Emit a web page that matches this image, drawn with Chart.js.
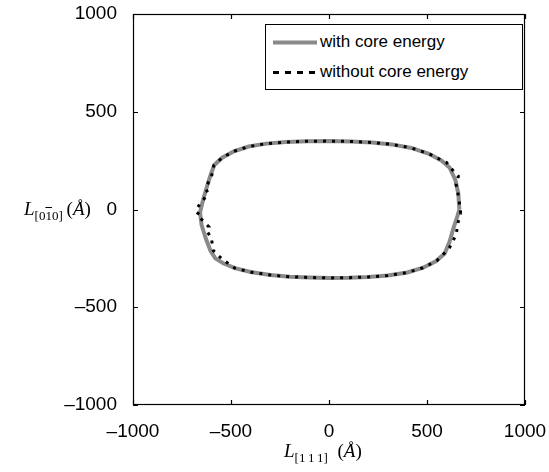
<!DOCTYPE html>
<html>
<head>
<meta charset="utf8">
<script src="https://cdn.jsdelivr.net/npm/chart.js@4.4.0/dist/chart.umd.min.js"></script>
<style>
  body { margin: 0; background: #fff; }
  .wrap { position: relative; width: 549px; height: 472px; }
  .ttl { position: absolute; font-family: "Liberation Serif", "DejaVu Serif", serif; font-size: 19px; color: #000; white-space: nowrap; }
  .ttl i { font-style: italic; }
  .ttl sub { font-size: 13px; vertical-align: -5px; }
  .ob { text-decoration: overline; }
  .legend { position: absolute; left: 265px; top: 24px; width: 256px; height: 64px; border: 1px solid #000; background: #fff;
            font-family: "Liberation Sans", Arial, sans-serif; font-size: 17px; }
  .row { position: absolute; left: 0; height: 20px; line-height: 20px; }
  .row span { position: absolute; left: 54px; top: 0; white-space: nowrap; }
  .row canvas { position: absolute; left: 7px; top: 0; }
</style>
</head>
<body>
<div class="wrap">
  <canvas id="myChart" width="549" height="472"></canvas>
  <div class="ttl" style="left:24px; top:198px;"><i>L</i><sub>[0<span class="ob">1</span>0]</sub>&thinsp;(<i>Å</i>)</div>
  <div class="ttl" style="left:284px; top:440px;"><i>L</i><sub>[1&thinsp;1&thinsp;1]</sub>&nbsp;&nbsp;(<i>Å</i>)</div>
  <div class="legend">
    <div class="row" style="top:7px;"><canvas id="lg1" width="46" height="20"></canvas><span>with core energy</span></div>
    <div class="row" style="top:37px;"><canvas id="lg2" width="46" height="20"></canvas><span>without core energy</span></div>
  </div>
</div>
<script>
// loop shapes (Angstrom)
var withX = [665, 660, 645, 615, 575, 510, 420, 320, 220, 110, 0, -110, -220, -320, -410, -485, -545, -585, -605, -625, -645, -658, -650, -628, -605, -580, -540, -480, -400, -300, -200, -100, 0, 100, 200, 300, 400, 480, 545, 590, 615, 635, 655, 665];
var withY = [0, 80, 150, 215, 250, 285, 315, 333, 343, 348, 350, 349, 345, 337, 322, 298, 265, 228, 175, 110, 40, -15, -80, -150, -210, -250, -275, -300, -320, -335, -344, -348, -350, -349, -345, -338, -322, -298, -265, -225, -165, -95, -35, 0];

var woX = [672, 662, 648, 660, 640, 612, 600, 575, 510, 420, 320, 220, 110, 0, -110, -220, -320, -410, -485, -545, -588, -600, -612, -630, -618, -640, -672, -662, -675, -640, -612, -622, -600, -590, -560, -540, -480, -400, -300, -200, -100, 0, 100, 200, 300, 400, 480, 550, 592, 615, 648, 660, 672];
var woY = [-20, 60, 130, 170, 190, 225, 240, 252, 285, 315, 333, 343, 348, 350, 349, 345, 337, 322, 298, 265, 225, 165, 145, 110, 85, 50, 10, -10, -30, -60, -90, -110, -150, -210, -240, -258, -300, -320, -335, -344, -348, -350, -349, -345, -338, -322, -298, -262, -220, -195, -130, -60, -20];

var tickVals = [-1000, -500, 0, 500, 1000];

function pts(xs, ys) {
  var out = [];
  for (var i = 0; i < xs.length; i++) out.push({x: xs[i], y: ys[i]});
  return out;
}

var boxTicks = {
  id: 'boxTicks',
  afterDraw: function(chart) {
    var c = chart.ctx, a = chart.chartArea, sx = chart.scales.x, sy = chart.scales.y;
    c.save();
    c.strokeStyle = '#000';
    c.lineWidth = 1.2;
    c.strokeRect(a.left + 0.5, a.top + 0.5, a.right - a.left - 1, a.bottom - a.top - 1);
    c.beginPath();
    tickVals.forEach(function(v) {
      var px = Math.round(sx.getPixelForValue(v)) + 0.5;
      c.moveTo(px, a.bottom); c.lineTo(px, a.bottom - 5);
      c.moveTo(px, a.top); c.lineTo(px, a.top + 5);
      var py = Math.round(sy.getPixelForValue(v)) + 0.5;
      c.moveTo(a.left, py); c.lineTo(a.left + 5, py);
      c.moveTo(a.right, py); c.lineTo(a.right - 5, py);
    });
    c.stroke();
    c.restore();
  }
};

function fmt(v) { return String(v).replace('-', '\u2013'); }

const ctx = document.getElementById('myChart').getContext('2d');
const myChart = new Chart(ctx, {
  type: 'scatter',
  data: {
    datasets: [{
      label: 'with core energy',
      data: pts(withX, withY),
      showLine: true,
      borderColor: '#8a8a8a',
      borderWidth: 4,
      pointRadius: 0,
      order: 2
    }, {
      label: 'without core energy',
      data: pts(woX, woY),
      showLine: true,
      borderColor: '#000',
      borderWidth: 3,
      borderDash: [3, 6],
      pointRadius: 0,
      order: 1
    }]
  },
  options: {
    responsive: false,
    animation: false,
    layout: { padding: { top: 14, right: 24, left: 0, bottom: 0 } },
    plugins: { legend: { display: false }, tooltip: { enabled: false } },
    scales: {
      x: {
        min: -1000, max: 1000,
        afterBuildTicks: function(s) { s.ticks = tickVals.map(function(v) { return {value: v}; }); },
        afterFit: function(s) { s.height = 67; s.paddingLeft = 0; s.paddingRight = 0; },
        grid: { display: false },
        border: { display: false },
        ticks: { color: '#000', padding: 7, maxRotation: 0, font: { family: 'Liberation Sans', size: 19 }, callback: fmt }
      },
      y: {
        min: -1000, max: 1000,
        afterBuildTicks: function(s) { s.ticks = tickVals.map(function(v) { return {value: v}; }); },
        afterFit: function(s) { s.width = 133; s.paddingTop = 0; s.paddingBottom = 0; },
        grid: { display: false },
        border: { display: false },
        ticks: { color: '#000', padding: 8, font: { family: 'Liberation Sans', size: 19 }, callback: fmt }
      }
    }
  },
  plugins: [boxTicks]
});

// legend samples
function sample(id, color, w, dash) {
  var g = document.getElementById(id).getContext('2d');
  g.strokeStyle = color; g.lineWidth = w; g.setLineDash(dash);
  g.beginPath(); g.moveTo(0, 10.5); g.lineTo(44, 10.5); g.stroke();
}
sample('lg1', myChart.data.datasets[0].borderColor, 4, []);
sample('lg2', '#000', 3, [6, 6]);
</script>
</body>
</html>
